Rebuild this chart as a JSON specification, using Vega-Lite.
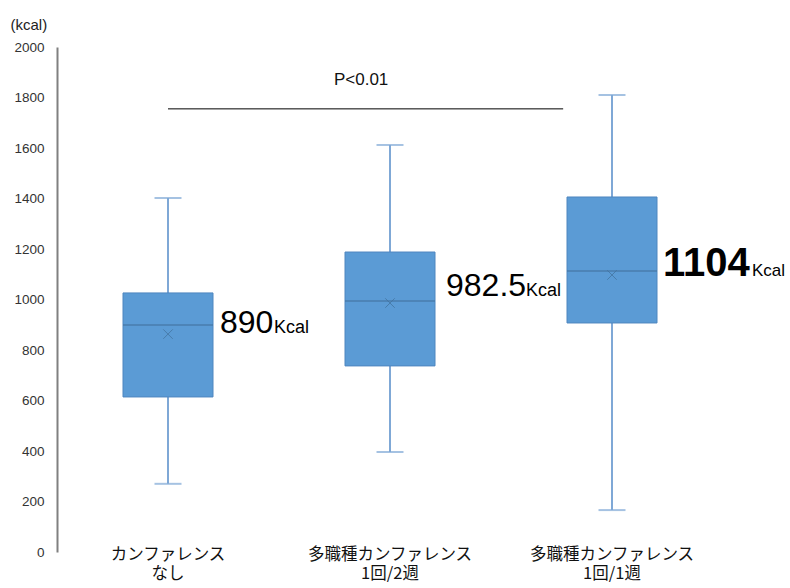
{
  "$schema": "https://vega.github.io/schema/vega-lite/v6.json",
  "width": 666,
  "height": 505,
  "autosize": {"type": "none"},
  "padding": {"left": 57, "top": 47, "right": 67, "bottom": 36},
  "background": "white",
  "config": {"view": {"stroke": null}, "font": "Liberation Sans"},
  "datasets": {
    "stats": [
      {"group": "A", "min": 270, "q1": 614, "median": 899, "q3": 1026, "max": 1402, "mean": 863},
      {"group": "B", "min": 396, "q1": 737, "median": 994, "q3": 1188, "max": 1612, "mean": 986},
      {"group": "C", "min": 166, "q1": 907, "median": 1113, "q3": 1406, "max": 1810, "mean": 1097}
    ],
    "labels": [
      {"group": "A", "num": "890", "unit": "Kcal", "y": 867},
      {"group": "B", "num": "982.5", "unit": "Kcal", "y": 1014},
      {"group": "C", "num": "1104", "unit": "Kcal", "y": 1093}
    ],
    "sig": [
      {"from": "A", "to": "C", "mid": "B", "y": 1755, "ty": 1869, "text": "P<0.01"}
    ]
  },
  "encoding": {
    "x": {
      "field": "group",
      "type": "nominal",
      "scale": {"domain": ["A", "B", "C"], "paddingInner": 0, "paddingOuter": 0},
      "axis": {
        "title": null,
        "domain": false,
        "ticks": false,
        "labelAngle": 0,
        "labelFont": "Noto Sans CJK JP",
        "labelFontSize": 16.5,
        "labelColor": "#111",
        "labelBaseline": "top",
        "labelPadding": -6,
        "labelLineHeight": 19,
        "labelExpr": "datum.value == 'A' ? ['カンファレンス', 'なし'] : datum.value == 'B' ? ['多職種カンファレンス', '1回/2週'] : ['多職種カンファレンス', '1回/1週']"
      }
    }
  },
  "layer": [
    {
      "data": {"name": "stats"},
      "mark": {"type": "rule", "color": "#7FA8D6", "strokeWidth": 2},
      "encoding": {
        "y": {
          "field": "min",
          "type": "quantitative",
          "scale": {"domain": [0, 2000], "nice": false},
          "axis": {
            "title": "(kcal)",
            "titleAngle": 0,
            "titleX": -47,
            "titleY": -23,
            "titleAlign": "left",
            "titleBaseline": "middle",
            "titleFontSize": 15,
            "titleFontWeight": "normal",
            "titleColor": "#222",
            "titleFont": "Liberation Sans",
            "values": [0, 200, 400, 600, 800, 1000, 1200, 1400, 1600, 1800, 2000],
            "format": "d",
            "grid": false,
            "ticks": false,
            "labelFontSize": 13.5,
            "labelColor": "#333",
            "labelPadding": 13,
            "domainColor": "#808080",
            "domainWidth": 2
          }
        },
        "y2": {"field": "max"}
      }
    },
    {
      "data": {"name": "stats"},
      "mark": {"type": "tick", "orient": "horizontal", "color": "#7FA8D6", "size": 27, "thickness": 2},
      "encoding": {"y": {"field": "min", "type": "quantitative"}}
    },
    {
      "data": {"name": "stats"},
      "mark": {"type": "tick", "orient": "horizontal", "color": "#7FA8D6", "size": 27, "thickness": 2},
      "encoding": {"y": {"field": "max", "type": "quantitative"}}
    },
    {
      "data": {"name": "stats"},
      "mark": {"type": "bar", "size": 90, "color": "#5B9BD5", "stroke": "#4F86BF", "strokeWidth": 1},
      "encoding": {"y": {"field": "q1", "type": "quantitative"}, "y2": {"field": "q3"}}
    },
    {
      "data": {"name": "stats"},
      "mark": {"type": "tick", "orient": "horizontal", "color": "#41719C", "size": 90, "thickness": 1.5},
      "encoding": {"y": {"field": "median", "type": "quantitative"}}
    },
    {
      "data": {"name": "stats"},
      "mark": {"type": "point", "shape": "M-1,-1L1,1M-1,1L1,-1", "filled": false, "size": 90, "color": "#41719C", "strokeWidth": 1},
      "encoding": {"y": {"field": "mean", "type": "quantitative"}}
    },
    {
      "data": {"name": "sig"},
      "mark": {"type": "rule", "color": "#000", "strokeWidth": 1},
      "encoding": {
        "x": {"field": "from", "type": "nominal", "bandPosition": 0.5},
        "x2": {"field": "to", "bandPosition": 0.28},
        "y": {"field": "y", "type": "quantitative"}
      }
    },
    {
      "data": {"name": "sig"},
      "mark": {"type": "text", "fontSize": 17, "color": "#111", "align": "center", "baseline": "middle"},
      "encoding": {
        "x": {"field": "mid", "type": "nominal", "bandPosition": 0.37},
        "y": {"field": "ty", "type": "quantitative"},
        "text": {"field": "text"}
      }
    },
    {
      "data": {"name": "labels"},
      "transform": [{"filter": "datum.group == 'A'"}],
      "mark": {"type": "text", "fontSize": 32, "align": "left", "baseline": "alphabetic", "dx": 52, "color": "#000"},
      "encoding": {"y": {"field": "y", "type": "quantitative"}, "text": {"field": "num"}}
    },
    {
      "data": {"name": "labels"},
      "transform": [{"filter": "datum.group == 'A'"}],
      "mark": {"type": "text", "fontSize": 18, "align": "left", "baseline": "alphabetic", "dx": 106, "color": "#000"},
      "encoding": {"y": {"field": "y", "type": "quantitative"}, "text": {"field": "unit"}}
    },
    {
      "data": {"name": "labels"},
      "transform": [{"filter": "datum.group == 'B'"}],
      "mark": {"type": "text", "fontSize": 32, "align": "left", "baseline": "alphabetic", "dx": 56, "color": "#000"},
      "encoding": {"y": {"field": "y", "type": "quantitative"}, "text": {"field": "num"}}
    },
    {
      "data": {"name": "labels"},
      "transform": [{"filter": "datum.group == 'B'"}],
      "mark": {"type": "text", "fontSize": 18, "align": "left", "baseline": "alphabetic", "dx": 136, "color": "#000"},
      "encoding": {"y": {"field": "y", "type": "quantitative"}, "text": {"field": "unit"}}
    },
    {
      "data": {"name": "labels"},
      "transform": [{"filter": "datum.group == 'C'"}],
      "mark": {"type": "text", "fontSize": 40, "fontWeight": "bold", "align": "left", "baseline": "alphabetic", "dx": 51, "color": "#000"},
      "encoding": {"y": {"field": "y", "type": "quantitative"}, "text": {"field": "num"}}
    },
    {
      "data": {"name": "labels"},
      "transform": [{"filter": "datum.group == 'C'"}],
      "mark": {"type": "text", "fontSize": 17, "align": "left", "baseline": "alphabetic", "dx": 140, "color": "#000"},
      "encoding": {"y": {"field": "y", "type": "quantitative"}, "text": {"field": "unit"}}
    }
  ]
}
